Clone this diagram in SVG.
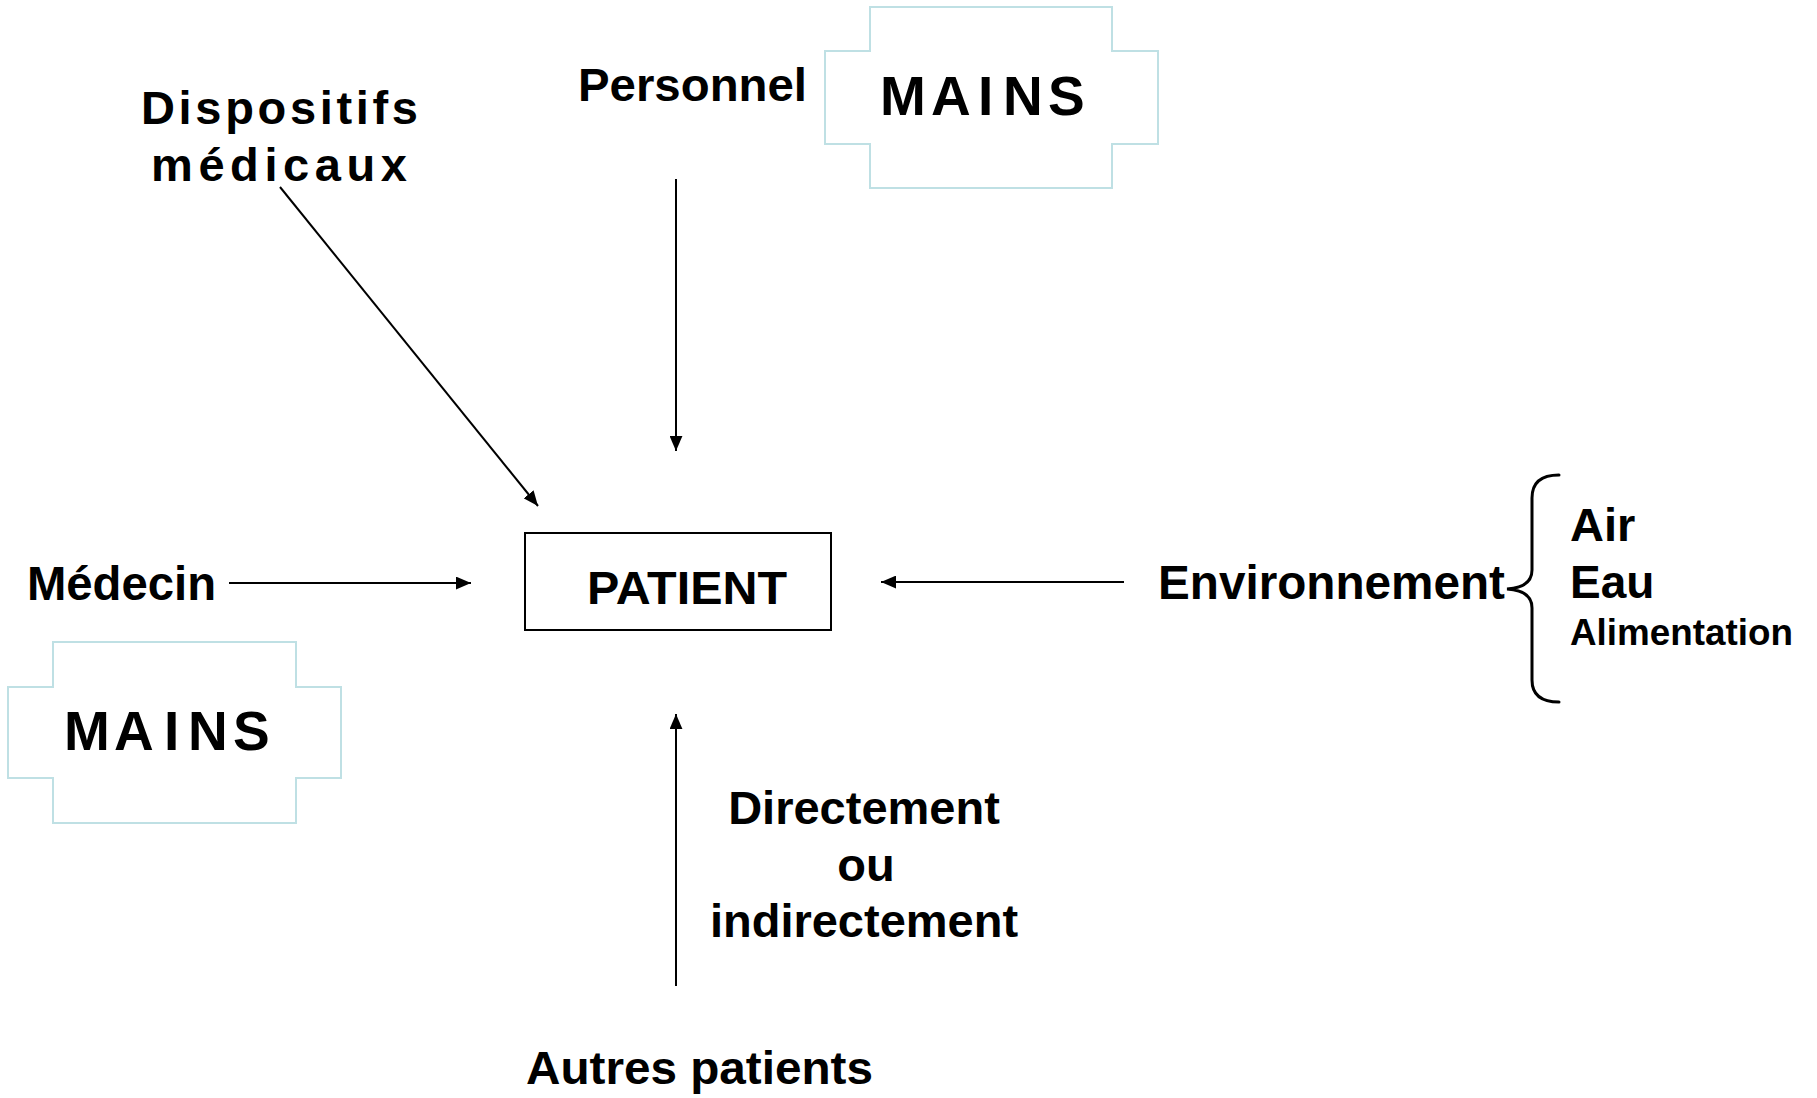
<svg xmlns="http://www.w3.org/2000/svg" width="1817" height="1098" viewBox="0 0 1817 1098">
  <style>
    .t { font-family: "Liberation Sans", Arial, Helvetica, sans-serif; font-weight: bold; fill: #000; }
    .mains { fill: #fff; stroke: #bfe0e4; stroke-width: 2; }
    .box { fill: #fff; stroke: #000; stroke-width: 2; }
    .conn { stroke: #000; stroke-width: 2; fill: none; }
    .brace { stroke: #000; stroke-width: 3; fill: none; stroke-linecap: round; }
  </style>
  <defs>
    <marker id="ah" viewBox="0 0 14 12" refX="14" refY="6" markerWidth="15" markerHeight="13" orient="auto" markerUnits="userSpaceOnUse">
      <path d="M0,0 L14,6 L0,12 z" fill="#000"/>
    </marker>
  </defs>
  <rect width="1817" height="1098" fill="#fff"/>

  <g id="mains-top">
    <polygon class="mains" points="870,7 1112,7 1112,51 1158,51 1158,144 1112,144 1112,188 870,188 870,144 825,144 825,51 870,51"/>
    <text class="t" font-size="55" x="880 931 978 1003 1048" y="115">MAINS</text>
  </g>

  <g id="mains-bottom">
    <polygon class="mains" points="53,642 296,642 296,687 341,687 341,778 296,778 296,823 53,823 53,778 8,778 8,687 53,687"/>
    <text class="t" font-size="55" x="64 114 164 188 233" y="750">MAINS</text>
  </g>

  <g id="patient">
    <rect class="box" x="525" y="533" width="306" height="97"/>
    <text class="t" font-size="46" x="587" y="604" textLength="200" lengthAdjust="spacingAndGlyphs">PATIENT</text>
  </g>

  <g id="dispositifs">
    <text class="t" font-size="47" x="141" y="124" textLength="277" lengthAdjust="spacing">Dispositifs</text>
    <text class="t" font-size="47" x="151" y="181" textLength="256" lengthAdjust="spacing">médicaux</text>
  </g>

  <g id="personnel">
    <text class="t" font-size="46" x="578" y="101" textLength="229" lengthAdjust="spacingAndGlyphs">Personnel</text>
  </g>

  <g id="medecin">
    <text class="t" font-size="48" x="27" y="600" textLength="189" lengthAdjust="spacingAndGlyphs">Médecin</text>
  </g>

  <g id="environnement">
    <text class="t" font-size="48" x="1158" y="599" textLength="347" lengthAdjust="spacingAndGlyphs">Environnement</text>
    <path class="brace" d="M1559,475 C1541,475 1532,483 1532,498 L1532,570 C1532,582 1523,588 1507,589 C1523,590 1532,596 1532,608 L1532,680 C1532,695 1541,702 1559,702"/>
    <text class="t" font-size="47" x="1570" y="541">Air</text>
    <text class="t" font-size="46" x="1570" y="598">Eau</text>
    <text class="t" font-size="36" x="1570" y="645" textLength="223" lengthAdjust="spacingAndGlyphs">Alimentation</text>
  </g>

  <g id="directement">
    <text class="t" font-size="47" x="864" y="824" text-anchor="middle">Directement</text>
    <text class="t" font-size="47" x="866" y="881" text-anchor="middle">ou</text>
    <text class="t" font-size="47" x="864" y="937" text-anchor="middle">indirectement</text>
  </g>

  <g id="autres-patients">
    <text class="t" font-size="46" x="526" y="1084" textLength="347" lengthAdjust="spacingAndGlyphs">Autres patients</text>
  </g>

  <g id="connectors">
    <line class="conn" x1="676" y1="179" x2="676" y2="451" marker-end="url(#ah)"/>
    <line class="conn" stroke-width="1.6" x1="280" y1="187" x2="538" y2="506" marker-end="url(#ah)"/>
    <line class="conn" x1="229" y1="583" x2="471" y2="583" marker-end="url(#ah)"/>
    <line class="conn" x1="1124" y1="582" x2="881" y2="582" marker-end="url(#ah)"/>
    <line class="conn" x1="676" y1="986" x2="676" y2="714" marker-end="url(#ah)"/>
  </g>
</svg>
